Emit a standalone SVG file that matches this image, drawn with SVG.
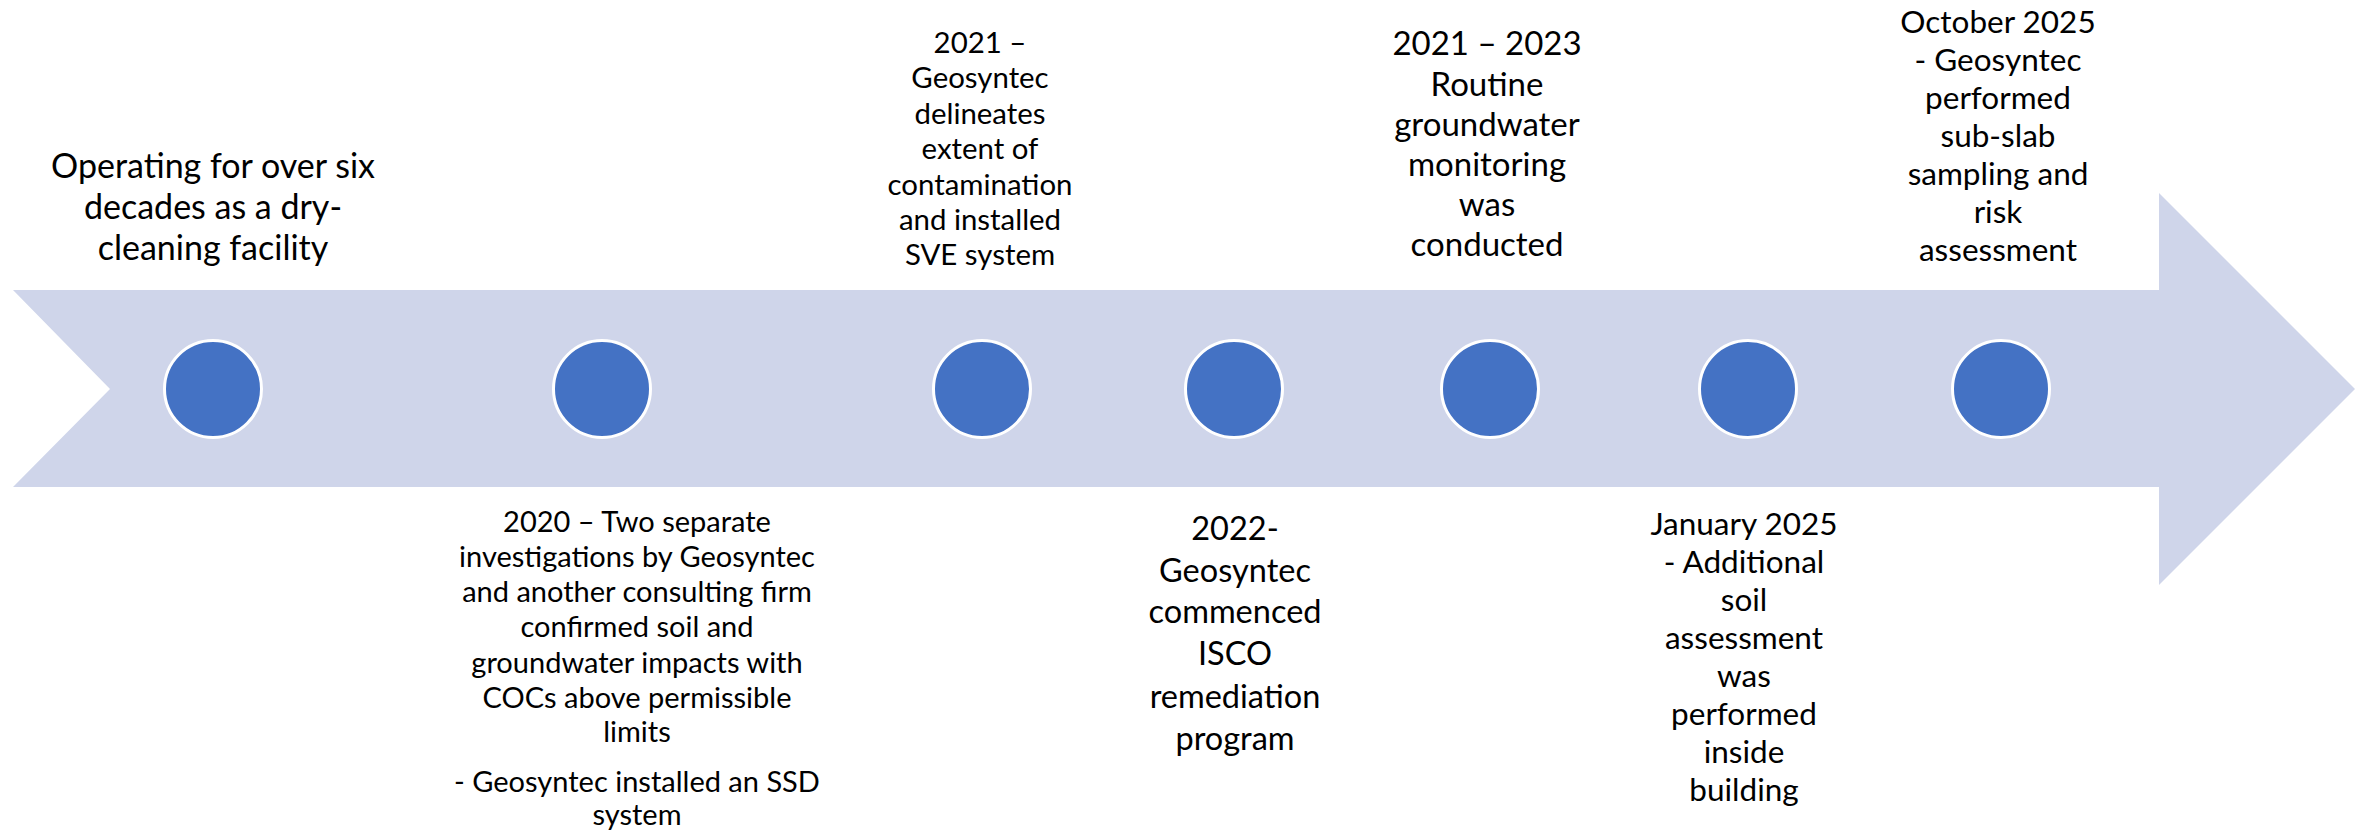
<svg xmlns="http://www.w3.org/2000/svg" width="2364" height="833" viewBox="0 0 2364 833">
<style>
.t{font-family:Lato,"Open Sans","Liberation Sans",sans-serif;fill:#000;text-anchor:middle}
.dot{fill:#4472C4;stroke:#FFFFFF;stroke-width:3}
</style>
<rect width="2364" height="833" fill="#FFFFFF"/>
<g id="timeline-arrow">
<polygon points="13,290 2159,290 2159,193 2355,389 2159,585 2159,487 13,487 110,389" fill="#CFD5EA"/>
</g>
<g id="connectors"></g>
<g id="event1">
<circle class="dot" cx="213" cy="389" r="48.5"/>
<text class="t" font-size="34"><tspan x="213" y="178">Operating for over six</tspan><tspan x="213" y="219">decades as a dry-</tspan><tspan x="213" y="260">cleaning facility</tspan></text>
</g>
<g id="event2">
<circle class="dot" cx="602" cy="389" r="48.5"/>
<text class="t" font-size="29"><tspan x="637" y="532">2020 – Two separate</tspan><tspan x="637" y="567">investigations by Geosyntec</tspan><tspan x="637" y="602">and another consulting firm</tspan><tspan x="637" y="637">confirmed soil and</tspan><tspan x="637" y="673">groundwater impacts with</tspan><tspan x="637" y="708">COCs above permissible</tspan><tspan x="637" y="742">limits</tspan><tspan x="637" y="792">- Geosyntec installed an SSD</tspan><tspan x="637" y="825">system</tspan></text>
</g>
<g id="event3">
<circle class="dot" cx="982" cy="389" r="48.5"/>
<text class="t" font-size="29.4"><tspan x="980" y="53">2021 –</tspan><tspan x="980" y="88">Geosyntec</tspan><tspan x="980" y="124">delineates</tspan><tspan x="980" y="159">extent of</tspan><tspan x="980" y="195">contamination</tspan><tspan x="980" y="230">and installed</tspan><tspan x="980" y="265">SVE system</tspan></text>
</g>
<g id="event4">
<circle class="dot" cx="1234" cy="389" r="48.5"/>
<text class="t" font-size="32.5"><tspan x="1235" y="540">2022-</tspan><tspan x="1235" y="582">Geosyntec</tspan><tspan x="1235" y="623">commenced</tspan><tspan x="1235" y="665">ISCO</tspan><tspan x="1235" y="708">remediation</tspan><tspan x="1235" y="750">program</tspan></text>
</g>
<g id="event5">
<circle class="dot" cx="1490" cy="389" r="48.5"/>
<text class="t" font-size="33"><tspan x="1487" y="55">2021 – 2023</tspan><tspan x="1487" y="96">Routine</tspan><tspan x="1487" y="136">groundwater</tspan><tspan x="1487" y="176">monitoring</tspan><tspan x="1487" y="216">was</tspan><tspan x="1487" y="256">conducted</tspan></text>
</g>
<g id="event6">
<circle class="dot" cx="1748" cy="389" r="48.5"/>
<text class="t" font-size="31.5"><tspan x="1744" y="535">January 2025</tspan><tspan x="1744" y="573">- Additional</tspan><tspan x="1744" y="611">soil</tspan><tspan x="1744" y="649">assessment</tspan><tspan x="1744" y="687">was</tspan><tspan x="1744" y="725">performed</tspan><tspan x="1744" y="763">inside</tspan><tspan x="1744" y="801">building</tspan></text>
</g>
<g id="event7">
<circle class="dot" cx="2001" cy="389" r="48.5"/>
<text class="t" font-size="31.5"><tspan x="1998" y="33">October 2025</tspan><tspan x="1998" y="71">- Geosyntec</tspan><tspan x="1998" y="109">performed</tspan><tspan x="1998" y="147">sub-slab</tspan><tspan x="1998" y="185">sampling and</tspan><tspan x="1998" y="223">risk</tspan><tspan x="1998" y="261">assessment</tspan></text>
</g>
</svg>
